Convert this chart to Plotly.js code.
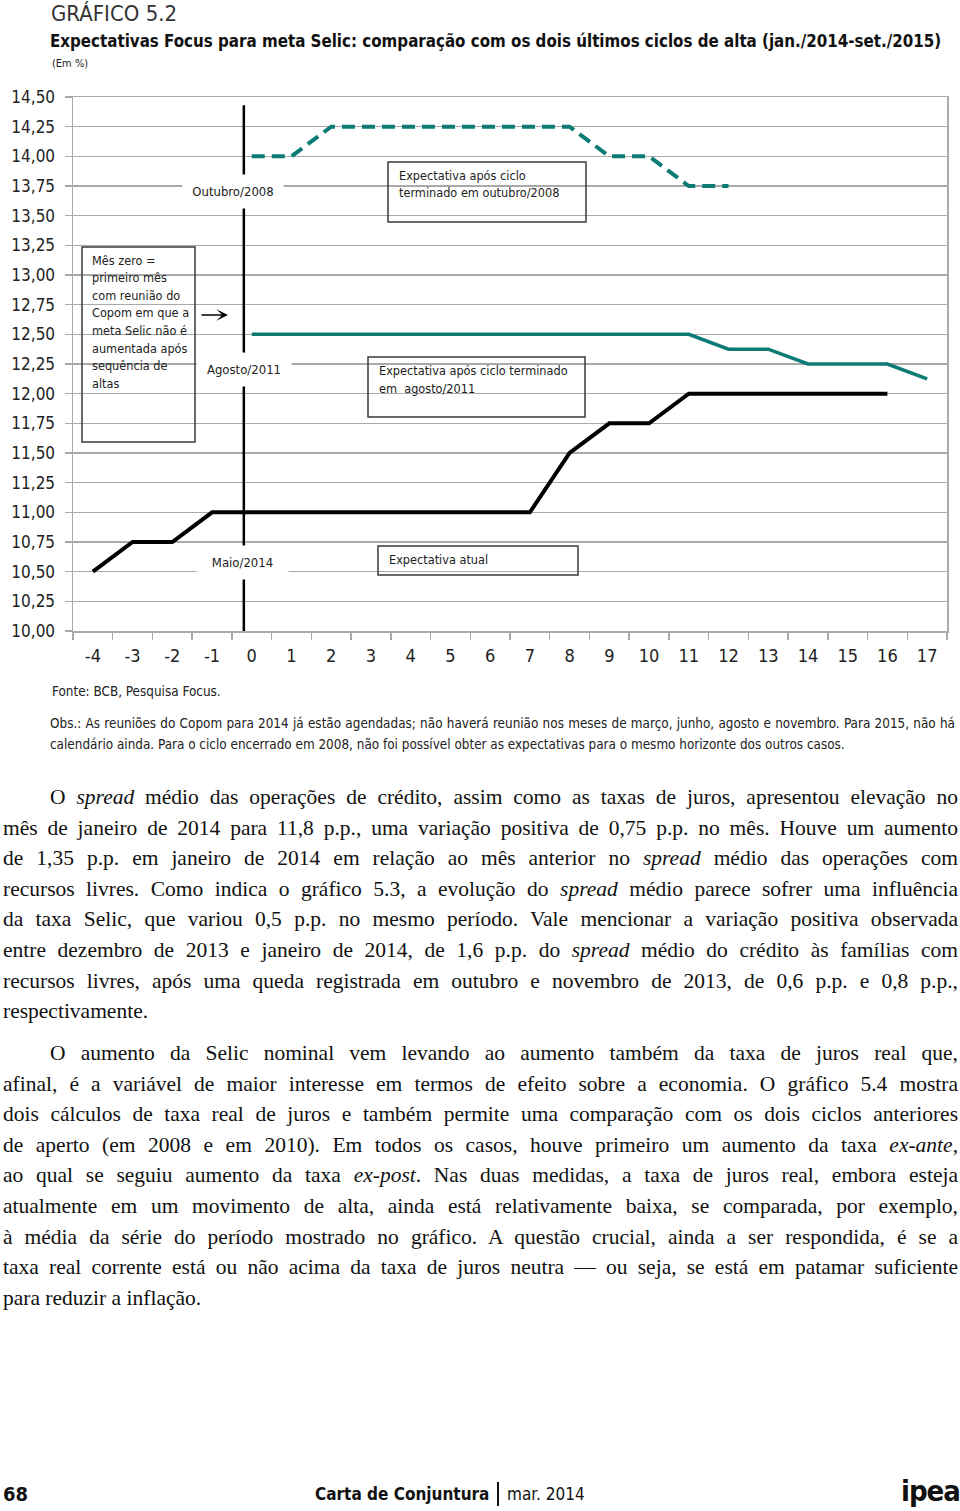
<!DOCTYPE html>
<html>
<head>
<meta charset="utf-8">
<script src="https://cdn.plot.ly/plotly-3.0.1.min.js"></script>
<style>
  html, body { margin:0; padding:0; background:#fff; }
  #page { position:relative; width:960px; height:1511px; overflow:hidden; background:#fff; }
  #chart { position:absolute; left:0; top:0; width:960px; height:760px; }
  .cond { font-family: "DejaVu Sans Condensed", "Liberation Sans Narrow", "Roboto Condensed", "Open Sans", sans-serif; }
  #obs { position:absolute; left:50px; top:713px; width:905px; font-size:13.4px; line-height:21px; color:#222; }
  #obs div { white-space:nowrap; }
  #obs .j { text-align:justify; text-align-last:justify; }
  .body { position:absolute; left:3px; width:955px; font-family:"Liberation Serif", "DejaVu Serif", serif; font-size:21.5px; line-height:30.6px; color:#111; }
  .body div { white-space:nowrap; }
  .body .j { text-align:justify; text-align-last:justify; white-space:normal; }
  .body .ind { padding-left:47px; }
  #footer { position:absolute; left:0; top:1476px; width:960px; height:35px; color:#111; }
</style>
</head>
<body>
<div id="page">
  <div id="chart"></div>
  <div id="obs" class="cond">
    <div class="j">Obs.: As reuniões do Copom para 2014 já estão agendadas; não haverá reunião nos meses de março, junho, agosto e novembro. Para 2015, não há</div>
    <div>calendário ainda. Para o ciclo encerrado em 2008, não foi possível obter as expectativas para o mesmo horizonte dos outros casos.</div>
  </div>
  <div class="body" style="top:782px;">
    <div class="j ind">O <i>spread</i> médio das operações de crédito, assim como as taxas de juros, apresentou elevação no</div>
    <div class="j">mês de janeiro de 2014 para 11,8 p.p., uma variação positiva de 0,75 p.p. no mês. Houve um aumento</div>
    <div class="j">de 1,35 p.p. em janeiro de 2014 em relação ao mês anterior no <i>spread</i> médio das operações com</div>
    <div class="j">recursos livres. Como indica o gráfico 5.3, a evolução do <i>spread</i> médio parece sofrer uma influência</div>
    <div class="j">da taxa Selic, que variou 0,5 p.p. no mesmo período. Vale mencionar a variação positiva observada</div>
    <div class="j">entre dezembro de 2013 e janeiro de 2014, de 1,6 p.p. do <i>spread</i> médio do crédito às famílias com</div>
    <div class="j">recursos livres, após uma queda registrada em outubro e novembro de 2013, de 0,6 p.p. e 0,8 p.p.,</div>
    <div>respectivamente.</div>
  </div>
  <div class="body" style="top:1038px;">
    <div class="j ind">O aumento da Selic nominal vem levando ao aumento também da taxa de juros real que,</div>
    <div class="j">afinal, é a variável de maior interesse em termos de efeito sobre a economia. O gráfico 5.4 mostra</div>
    <div class="j">dois cálculos de taxa real de juros e também permite uma comparação com os dois ciclos anteriores</div>
    <div class="j">de aperto (em 2008 e em 2010). Em todos os casos, houve primeiro um aumento da taxa <i>ex-ante</i>,</div>
    <div class="j">ao qual se seguiu aumento da taxa <i>ex-post</i>. Nas duas medidas, a taxa de juros real, embora esteja</div>
    <div class="j">atualmente em um movimento de alta, ainda está relativamente baixa, se comparada, por exemplo,</div>
    <div class="j">à média da série do período mostrado no gráfico. A questão crucial, ainda a ser respondida, é se a</div>
    <div class="j">taxa real corrente está ou não acima da taxa de juros neutra — ou seja, se está em patamar suficiente</div>
    <div>para reduzir a inflação.</div>
  </div>
  <div id="footer" class="cond">
    <div style="position:absolute;left:3px;top:6px;font-size:20px;line-height:24px;font-weight:bold;">68</div>
    <div style="position:absolute;left:315px;top:7px;font-size:17px;line-height:22px;font-weight:bold;">Carta de Conjuntura</div>
    <div style="position:absolute;left:497px;top:6px;width:1.5px;height:24px;background:#111;"></div>
    <div style="position:absolute;left:507px;top:7px;font-size:17px;line-height:22px;">mar. 2014</div>
    <div style="position:absolute;left:901px;top:0px;font-size:29px;line-height:30px;font-weight:bold;letter-spacing:-1px;">ipea</div>
  </div>
</div>
<script>
// ---- data ----
const months = [-4,-3,-2,-1,0,1,2,3,4,5,6,7,8,9,10,11,12,13,14,15,16,17];
const expectativaAtual = [10.50,10.75,10.75,11.00,11.00,11.00,11.00,11.00,11.00,11.00,11.00,11.00,11.50,11.75,11.75,12.00,12.00,12.00,12.00,12.00,12.00,null];
const cicloAgosto2011 = [null,null,null,null,12.50,12.50,12.50,12.50,12.50,12.50,12.50,12.50,12.50,12.50,12.50,12.50,12.375,12.375,12.25,12.25,12.25,12.125];
const cicloOutubro2008 = [null,null,null,null,14.00,14.00,14.25,14.25,14.25,14.25,14.25,14.25,14.25,14.00,14.00,13.75,13.75,null,null,null,null,null];
const yTickVals = [10.00,10.25,10.50,10.75,11.00,11.25,11.50,11.75,12.00,12.25,12.50,12.75,13.00,13.25,13.50,13.75,14.00,14.25,14.50];
const markerMonth = -0.2;
const noteMesZero = ['Mês zero =','primeiro mês','com reunião do','Copom em que a','meta Selic não é','aumentada após','sequência de','altas'];
const noteOut2008 = ['Expectativa após ciclo','terminado em outubro/2008'];
const noteAgo2011 = ['Expectativa após ciclo terminado','em  agosto/2011'];
const noteAtual = ['Expectativa atual'];

// ---- layout helpers (pixel -> paper) ----
const W = 960, H = 760, L = 73, R = 947, T = 97, B = 631;
const px = x => (x - L) / (R - L);
const py = y => (B - y) / (B - T);
const COND = '"DejaVu Sans Condensed", "Liberation Sans Narrow", "Roboto Condensed", "Open Sans", sans-serif';
const TEAL = '#0b7b73';
const GRID = '#a9a9a9';
const INK = '#222';

const traces = [
  {x: months, y: cicloOutubro2008, type:'scatter', mode:'lines', name:'Expectativa após ciclo terminado em outubro/2008',
   line:{color:TEAL, width:4, dash:'13px,7px'}, connectgaps:false, hoverinfo:'skip'},
  {x: months, y: cicloAgosto2011, type:'scatter', mode:'lines', name:'Expectativa após ciclo terminado em agosto/2011',
   line:{color:TEAL, width:3.5}, connectgaps:false, hoverinfo:'skip'},
  {x: months, y: expectativaAtual, type:'scatter', mode:'lines', name:'Expectativa atual',
   line:{color:'#000', width:4}, connectgaps:false, hoverinfo:'skip'}
];

function box(x0, y0, x1, y1) {
  return {type:'rect', xref:'paper', yref:'paper', x0:px(x0), x1:px(x1), y0:py(y1), y1:py(y0),
          line:{color:'#3a3a3a', width:1.5}, fillcolor:'rgba(255,255,255,0)', layer:'above'};
}
function txt(x, y, text, size, opts) {
  return Object.assign({xref:'paper', yref:'paper', x:px(x), y:py(y), text:text, showarrow:false,
    xanchor:'left', yanchor:'middle', align:'left', font:{family:COND, size:size, color:INK}}, opts || {});
}
function lines(x, y0, step, arr, size) {
  return arr.map((s, i) => txt(x, y0 + i * step, s, size));
}
function lbl(cx, cy, w, h, text) {
  return {xref:'paper', yref:'paper', x:px(cx), y:py(cy), xanchor:'center', yanchor:'middle',
    text:text, showarrow:false, width:w, height:h, bgcolor:'#fff', borderpad:0,
    font:{family:COND, size:13, color:INK}};
}

const layout = {
  width: W, height: H,
  margin:{l:L, r:W-R, t:T, b:H-B, pad:0},
  paper_bgcolor:'#fff', plot_bgcolor:'#fff',
  showlegend:false,
  separators:', ',
  font:{family:COND, color:INK},
  title:{text:'<b>Expectativas Focus para meta Selic: comparação com os dois últimos ciclos de alta (jan./2014-set./2015)</b>',
         xref:'container', yref:'container', x:50/W, xanchor:'left', y:1-41/H, yanchor:'middle',
         font:{family:COND, size:16.8, color:'#111'}},
  xaxis:{range:[-4.5,17.5], tickmode:'array', tickvals:months, ticktext:months.map(String),
         ticks:'', showgrid:false, zeroline:false, showline:true, linecolor:GRID, linewidth:1.5, mirror:true,
         tickfont:{family:COND, size:18, color:INK}, ticklabelstandoff:8,
         minor:{ticks:'outside', tickmode:'linear', tick0:-4.5, dtick:1, ticklen:7, tickcolor:GRID, tickwidth:1.5, showgrid:false},
         fixedrange:true},
  yaxis:{range:[10,14.5], tickmode:'array', tickvals:yTickVals, tickformat:'.2f',
         ticks:'outside', ticklen:7, tickcolor:GRID, tickwidth:1.5,
         showgrid:true, gridcolor:GRID, gridwidth:1.5, zeroline:false,
         showline:true, linecolor:GRID, linewidth:1.5, mirror:true,
         tickfont:{family:COND, size:17, color:INK}, ticklabelstandoff:6, fixedrange:true},
  shapes:[
    {type:'line', xref:'x', yref:'y', x0:markerMonth, x1:markerMonth, y0:10, y1:14.43, line:{color:'#000', width:2.5}, layer:'above'},
    box(82, 247, 195, 442),
    box(388, 162, 586, 222),
    box(368, 357, 585, 417),
    box(378, 546, 578, 575)
  ],
  annotations:[].concat(
    [txt(49, 14, 'GRÁFICO 5.2', 22, {font:{family:COND, size:22, color:'#333'}}),
     txt(50, 63, '(Em %)', 11),
     lbl(233, 191.5, 100, 33, 'Outubro/2008'),
     lbl(244, 369.5, 94, 33, 'Agosto/2011'),
     lbl(242.5, 562.5, 91, 33, 'Maio/2014')],
    lines(90, 260, 17.6, noteMesZero, 12.6),
    lines(397, 175, 17.5, noteOut2008, 12.6),
    lines(377, 370, 18, noteAgo2011, 12.6),
    lines(387, 559, 18, noteAtual, 12.6),
    [{xref:'paper', yref:'paper', x:px(228), y:py(315), ax:-28, ay:0, text:'', showarrow:true,
      arrowhead:3, arrowsize:1.3, arrowwidth:1.5, arrowcolor:'#000'},
     txt(50, 691, 'Fonte: BCB, Pesquisa Focus.', 13.4)]
  )
};

Plotly.newPlot('chart', traces, layout, {displayModeBar:false, staticPlot:true});
</script>
</body>
</html>
